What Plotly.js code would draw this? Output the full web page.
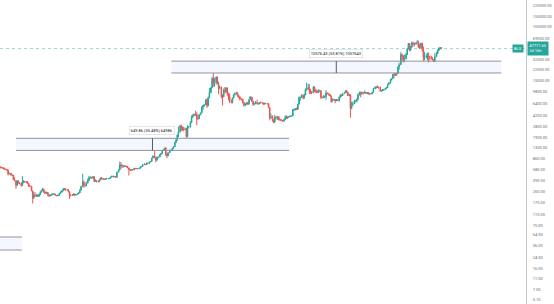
<!DOCTYPE html>
<html><head><meta charset="utf-8">
<script src="https://cdn.plot.ly/plotly-3.0.1.min.js"></script>
<style>html,body{margin:0;padding:0;background:#fff}#chart{width:554px;height:304px}</style>
</head><body><div id="chart"></div>
<script>
// ---- Data (weekly candles, BLX) ----
const firstOpen = 640;
const close2014 = [630,625,620,590, 590,575,500,510, 480,475,410,390, 330,380,360,355, 325,370,380,375, 375,350,320,320];
const high2014  = [655,640,630,625, 600,595,580,525, 515,490,480,440, 390,400,395,370, 360,460,395,385, 385,380,360,335];
const low2014   = [610,610,600,585, 580,560,470,490, 470,465,400,380, 290,320,350,340, 315,325,355,360, 360,345,310,310];

const close2015 = [270,210,230,225, 230,220,235,255, 275,285,260,245, 255,235,225,230, 235,240,240,230, 225,230,245,255, 270,285,290,280, 280,260,230,230, 230,240,230,235, 240,250,275,315, 370,330,325,360, 390,430,440,430];
const high2015  = [320,270,260,255, 240,235,245,265, 280,300,290,265, 260,255,240,235, 245,245,245,240, 232,235,250,265, 275,300,298,295, 285,282,265,235, 240,245,242,240, 245,255,285,320, 500,390,340,375, 420,465,455,450];
const low2015   = [265,170,200,215, 215,215,220,230, 255,265,250,240, 240,220,215,220, 225,235,230,225, 220,225,228,240, 255,265,275,270, 270,255,200,220, 225,228,225,230, 235,240,255,275, 310,300,315,320, 350,385,420,415];

const close2016 = [450,380,390,380, 380,400,430,420, 410,410,415,420, 420,425,445,460, 450,455,440,530, 575,690,670,675, 650,665,655,620, 590,570,580,575, 610,605,605,600, 615,640,655,700, 705,700,740,730, 770,780,890,960];
const high2016  = [460,455,410,395, 390,410,440,445, 425,420,420,425, 425,430,450,465, 465,460,458,540, 590,780,765,705, 680,680,670,660, 630,595,585,585, 615,615,610,607, 620,645,660,710, 740,710,752,745, 775,790,895,975];
const low2016   = [420,370,375,365, 365,370,395,410, 400,405,408,410, 415,418,425,440, 440,445,435,440, 530,570,600,620, 630,650,640,615, 470,565,565,570, 575,600,595,595, 600,610,635,650, 690,685,698,725, 735,765,780,880];

const close2017 = [900,820,920,920, 1010,1050,1180,1190, 1270,1000,960,1080, 1170,1180,1250,1340, 1560,1700,2050,2300, 2870,2650,2600,2500, 2550,1940,2730,2750, 3220,3880,4100,4380, 4350,3700,3700,4330, 4600,5680,6000,6150, 7400,5950,8000,9700, 11400,16000,13800,14000];
const high2017  = [1150,910,930,925, 1025,1065,1190,1210, 1290,1330,1080,1090, 1200,1210,1260,1350, 1600,1810,2070,2800, 2970,2980,2800,2770, 2700,2650,2930,2850, 3400,4200,4360,4500, 4980,4700,4150,4350, 4600,5850,6180,6300, 7600,7900,8300,11400, 11800,17000,19600,16500];
const low2017   = [880,760,815,880, 915,985,1045,1145, 1180,970,890,960, 1080,1150,1175,1250, 1330,1540,1700,1900, 2250,2350,2400,2350, 2450,1840,1900,2600, 2700,3180,3900,4100, 4100,2950,3600,3750, 4200,4600,5100,5700, 6800,5500,5900,8000, 9400,13200,12000,11800];

const close2018 = [17000,13500,11500,11800, 8200,8200,10400,10100, 11400,9500,8200,6900, 6900,7900,8900,9300, 9600,8500,8200,7500, 7500,6700,6100,6400, 6700,6300,7400,8200, 7000,6300,6400,6700, 6400,6500,6700,6600, 6600,6300,6500,6400, 6400,5600,3900,4000, 3600,3300,3900,3800];
const high2018  = [17200,17300,14300,12500, 11800,9000,11200,11800, 11700,11500,9400,9200, 7500,8000,9000,9700, 9900,9500,8900,8350, 7800,7750,6830,6500, 6850,6800,7550,8500, 8200,7150,6600,7100, 7400,6600,6800,6950, 6700,6650,6650,6600, 6550,6500,5600,4500, 4200,3600,4250,4150];
const low2018   = [12800,13100,9100,10800, 7800,6000,8200,9300, 9400,8600,7300,6600, 6500,6500,7800,8600, 9000,8300,7900,7250, 7200,6450,5800,5800, 6100,6150,6250,7400, 6900,5900,6150,6350, 6250,6150,6300,6500, 6500,6200,6350,6400, 6250,5500,3500,3700, 3350,3150,3200,3600];

const close2019 = [4000,3600,3550,3500, 3400,3600,4000,3800, 4000,4000,4100,4100, 5100,5150,5300,5200, 6300,8000,8000,8700, 8000,8800,10800,11000, 11400,10200,9500,9500, 11700,10300,10300,9600, 10300,10300,8000,8000, 8200,8300,9500,9200, 8800,8500,7000,7400, 7500,7100,7500,7200];
const high2019  = [4100,4050,3700,3650, 3550,3720,4200,4200, 4000,4050,4150,4140, 5300,5400,5480,5600, 6400,8400,8200,9000, 9000,9300,11200,13800, 13200,13100,10900,10200, 12300,12000,10900,10700, 10900,10500,10400,8450, 8750,8700,10500,9600, 9400,9150,8600,7800, 7700,7600,7500,7500];
const low2019   = [3550,3470,3480,3400, 3350,3400,3600,3650, 3700,3850,3950,3950, 4100,4970,5050,5050, 5300,6400,7100,7900, 7500,7700,8800,10300, 10700,9100,9200,9100, 9600,9800,9500,9400, 9600,9950,7700,7800, 7900,7900,7400,9000, 8700,8400,6600,7000, 7300,6550,7100,7050];

const close2020 = [8100,8900,8600,9300, 9600,10300,9650,8600, 8900,5400,6200,6400, 7000,7100,7500,8800, 9600,9400,9700,9450, 9700,9350,9650,9100, 9250,9200,9700,11000, 11600,11800,11700,11700, 10300,10330,10700,10770, 11300,11500,13000,13800, 15500,16000,18700,18200, 19300,19200,24600,26500];
const high2020  = [8400,9000,8950,9400, 9600,10500,10500,9900, 9200,8100,6900,6950, 7400,7200,7750,9450, 10000,9950,9900,9600, 10400,9800,9800,9750, 9350,9350,9800,11400, 12100,12100,12450,11800, 12000,10650,11000,10950, 11400,11700,13200,14000, 15800,16400,19000,19500, 19800,19400,24700,28500];
const low2020   = [6900,8000,8300,8500, 9150,9700,9400,8500, 8400,3850,5250,5900, 6500,6750,6800,7350, 8700,8100,8850,8950, 9300,9250,9100,9000, 8950,9050,9150,9600, 11000,11150,11350,11100, 9900,9900,10150,10250, 10550,11150,11500,12800, 13250,14900,16300,16300, 17650,17600,19000,22000];

const close2021 = [38000,36000,32000,33000, 38300,47000,57500,45000, 51000,59000,57500,55800, 58500,60000,50000,49000, 58000,46500,34700,35600, 35600,35800,35500,34700, 33500,31700,29800,35400, 39800,44600,48900,49000, 47771.65];
const high2021  = [41900,40000,37800,38600, 40800,48900,58300,58000, 52600,61800,59800,59400, 60000,64800,64000,57000, 59500,58300,51500,42000, 39500,41300,41300,36700, 36900,35000,32800,40500, 42600,46700,49200,50500, 50500];
const low2021   = [28300,30400,28800,29300, 32300,37700,46200,43000, 44800,49200,53200,51500, 55700,58700,50500,47000, 52900,42500,30000,31000, 33400,31000,28800,31200, 32100,31100,29300,29500, 37300,39600,43900,46300, 46800];

const lastPrice = 47771.65;
const symbol = "BLX";
const countdown = "2d 16h";

// price-range measurements
const rangeLow    = [1171.34, 19655.0, 31.2];
const rangeHigh   = [1821.20, 30231.4, 50.1];
const rangeLabels = ["649.86 (55.48%) 64986", "10576.43 (53.81%) 1057643", ""];

// right price axis labels
const tickValues = [5.1,7.5,11,16,24,36,54,75,115,175,260,390,580,860,1300,1900,2800,4200,6400,9800,15000,22500,32500,69000,105000,155000,225000];
const tickLabels = tickValues.map(v => v.toFixed(2));

// ---- build candles ----
const closes = [].concat(close2014,close2015,close2016,close2017,close2018,close2019,close2020,close2021);
const highsRaw = [].concat(high2014,high2015,high2016,high2017,high2018,high2019,high2020,high2021);
const lowsRaw = [].concat(low2014,low2015,low2016,low2017,low2018,low2019,low2020,low2021);
const opens = closes.map((c,i) => i === 0 ? firstOpen : closes[i-1]);
const highs = highsRaw.map((h,i) => Math.max(h, opens[i], closes[i]));
const lows = lowsRaw.map((l,i) => Math.min(l, opens[i], closes[i]));
const dates = [];
const pad = n => (n < 10 ? '0' : '') + n;
for (let y = 2014; y <= 2021; y++) {
  for (let m = 1; m <= 12; m++) {
    if (y === 2014 && m < 7) continue;
    if (y === 2021 && m > 8) continue;
    for (const d of [1,8,15,22]) dates.push(`${y}-${pad(m)}-${pad(d)}`);
  }
}
dates.push('2021-08-29');

const trace = {
  type: 'candlestick', x: dates, open: opens, high: highs, low: lows, close: closes,
  increasing: {line: {color: '#26a69a', width: 1}, fillcolor: '#26a69a'},
  decreasing: {line: {color: '#ef5350', width: 1}, fillcolor: '#ef5350'},
  whiskerwidth: 0, hoverinfo: 'skip', showlegend: false
};

// ---- drawing tools (positions) ----
const rangeX = [['2014-10-01','2019-03-10'], ['2017-04-10','2022-08-20'], ['2014-03-01','2014-11-05']];
const L = Math.log10;
const shapes = [];
const annotations = [];
rangeX.forEach((xr, i) => {
  shapes.push({type:'rect', xref:'x', yref:'y', x0:xr[0], x1:xr[1], y0:rangeLow[i], y1:rangeHigh[i],
    fillcolor:'rgba(41,98,255,0.05)', line:{width:0}, layer:'below'});
  [rangeLow[i], rangeHigh[i]].forEach(v => shapes.push({type:'line', xref:'x', yref:'y', x0:xr[0], x1:xr[1], y0:v, y1:v,
    line:{color:'#8f939b', width:1}}));
  if (rangeLabels[i]) {
    const t0 = new Date(xr[0]).getTime(), t1 = new Date(xr[1]).getTime();
    const mid = new Date((t0 + t1) / 2).toISOString().slice(0,10);
    shapes.push({type:'line', xref:'x', yref:'y', x0:mid, x1:mid, y0:rangeLow[i], y1:rangeHigh[i],
      line:{color:'#555a63', width:1}});
    annotations.push({xref:'x', yref:'y', x:mid, y:L(rangeHigh[i]), yanchor:'bottom', yshift:3, showarrow:false,
      text:rangeLabels[i], font:{family:'Roboto, Arial', size:4, color:'#131722'},
      bgcolor:'#ffffff', bordercolor:'#d6d8de', borderwidth:0.6, borderpad:1.2});
  }
});
shapes.push({type:'line', xref:'paper', yref:'y', x0:0, x1:1, y0:lastPrice, y1:lastPrice,
  line:{color:'rgba(38,166,154,0.45)', width:1, dash:'dot'}});
annotations.push({xref:'paper', yref:'y', x:1, y:L(lastPrice), xanchor:'left', xshift:1, showarrow:false,
  text: lastPrice.toFixed(2) + '<br>' + countdown, align:'left',
  font:{family:'Roboto, Arial', size:4, color:'#ffffff'}, bgcolor:'#26a69a', borderpad:1.2});
annotations.push({xref:'paper', yref:'y', x:1, y:L(lastPrice), xanchor:'right', xshift:-2, showarrow:false,
  text: symbol, font:{family:'Roboto, Arial', size:4, color:'#ffffff'}, bgcolor:'#26a69a', borderpad:1});

const layout = {
  width: 554, height: 304,
  margin: {l:0, r:28, t:0, b:0, pad:0},
  paper_bgcolor:'#ffffff', plot_bgcolor:'#ffffff',
  showlegend:false,
  xaxis: {type:'date', range:['2014-06-28','2023-01-14'], visible:false, rangeslider:{visible:false}, fixedrange:true},
  yaxis: {type:'log', side:'right', range:[0.6407, 5.4471], tickvals:tickValues, ticktext:tickLabels,
    tickfont:{family:'Roboto, Arial', size:4, color:'#6a6d78'}, showgrid:false, zeroline:false,
    showline:true, linecolor:'#c3c6cc', linewidth:1, ticks:'', ticklabelstandoff:5, fixedrange:true},
  shapes: shapes, annotations: annotations
};
Plotly.newPlot('chart', [trace], layout, {staticPlot:true, displayModeBar:false});
</script></body></html>
